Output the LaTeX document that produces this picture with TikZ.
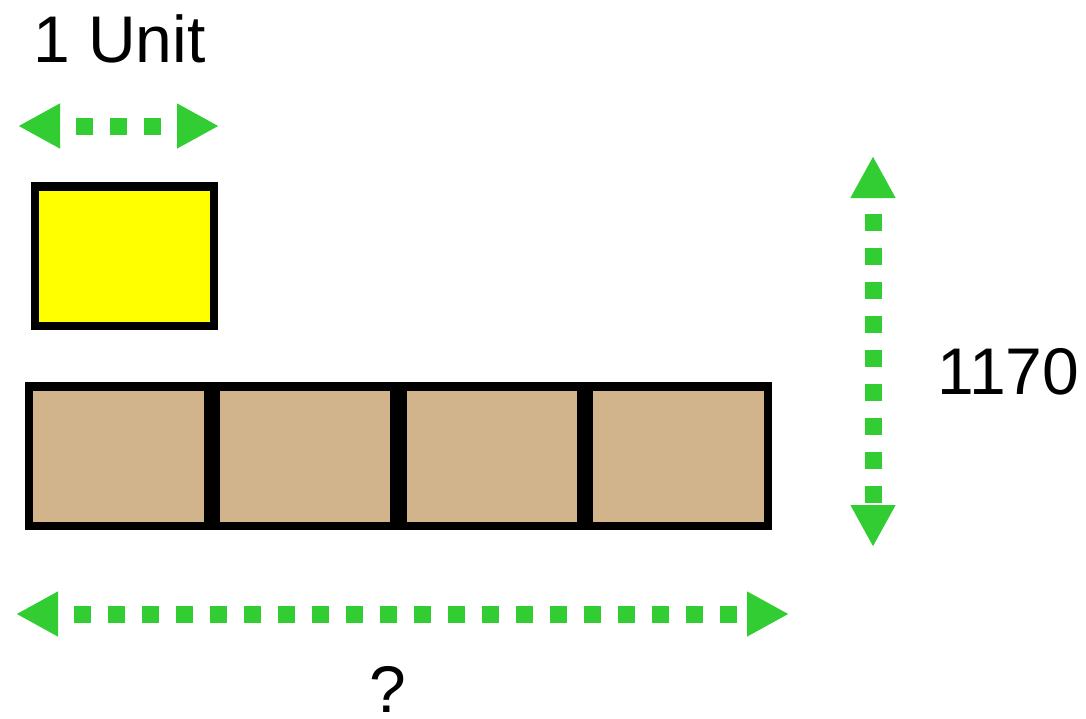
\documentclass[tikz,border=0pt]{standalone}
\usepackage{fontspec}
\setmainfont{Liberation Sans}
\usetikzlibrary{arrows.meta}
\definecolor{dimgreen}{RGB}{50,205,50}
\definecolor{boxtan}{RGB}{210,180,140}
\definecolor{unityellow}{RGB}{255,255,0}
\tikzset{
  dimarrow/.style={draw=dimgreen, line width=17pt, dash pattern=on 17pt off 17pt, dash phase=15pt,
    line cap=butt, {Triangle[length=42pt,width=42pt,fill=dimgreen]}-{Triangle[length=42pt,width=42pt,fill=dimgreen]}},
  unitbox/.style={draw=black, line width=8.5pt, inner sep=0pt, minimum width=179pt, minimum height=139.5pt, fill=unityellow},
  partbox/.style={draw=black, line width=8.5pt, inner sep=0pt, minimum width=179pt, minimum height=139.5pt, fill=boxtan},
  lbl/.style={inner sep=0pt, text depth=0pt, font=\fontsize{66}{79}\selectfont}
}
\begin{document}
\begin{tikzpicture}[x=1pt,y=-1pt]
\fill[white] (0,0) rectangle (1086,718);
\useasboundingbox (0,0) rectangle (1086,718);
% labels
\node[lbl, anchor=base west] (unitlbl) at (33,62) {1 Unit};
\node[lbl, anchor=base west] (hlbl) at (937,394) {1170};
\node[lbl, anchor=base] (qlbl) at (388,712) {?};
% boxes
\node[unitbox] (unit) at (124.5,256.25) {};
\node[partbox] (p1) at (118.4,456) {};
\node[partbox] (p2) at (305.1,456) {};
\node[partbox] (p3) at (491.9,456) {};
\node[partbox] (p4) at (678.6,456) {};
% arrows
\coordinate (ua) at (18,126);
\coordinate (ub) at (219,126);
\coordinate (va) at (873,156);
\coordinate (vb) at (873,547);
\coordinate (ba) at (16,614);
\coordinate (bb) at (789,614);
\draw[dimarrow] (ua) -- (ub);
\draw[dimarrow] (va) -- (vb);
\draw[dimarrow] (ba) -- (bb);
\end{tikzpicture}
\end{document}
